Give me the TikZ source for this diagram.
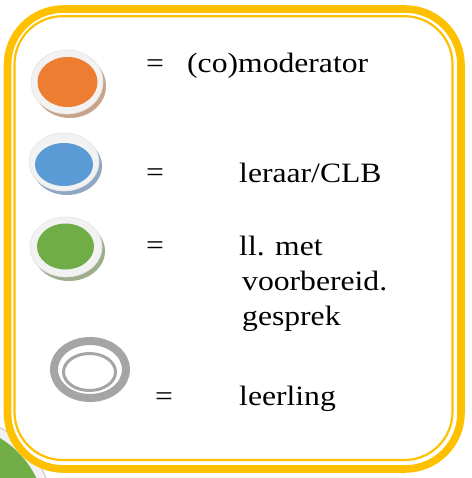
\documentclass[tikz,border=0pt]{standalone}
\usepackage{graphicx}
\usepackage{fontspec}
\setmainfont{Liberation Serif}
\definecolor{ybord}{HTML}{FFC000}
\definecolor{ringw}{HTML}{F2F2F2}
\definecolor{ringedge}{HTML}{E4E4E4}
\definecolor{morange}{HTML}{ED7D31}
\definecolor{mblue}{HTML}{5B9BD5}
\definecolor{mgreen}{HTML}{70AD47}
\definecolor{mgrey}{HTML}{A5A5A5}
\definecolor{oshadow}{HTML}{C8A58A}
\definecolor{bshadow}{HTML}{8FA7C2}
\definecolor{gshadow}{HTML}{9CAE8C}
\newcommand{\hstretch}[1]{\scalebox{1.13}[1]{#1}}
\tikzset{
  lbl/.style={font=\fontsize{28bp}{35bp}\selectfont, inner sep=0pt, anchor=base west, text=black},
  ringfill/.style={fill=ringw, draw=ringedge, line width=0.6bp}
}
\begin{document}
\begin{tikzpicture}[x=1bp,y=-1bp]
\useasboundingbox (0,0) rectangle (472,478);
% partially hidden big green marker behind the box
\begin{scope}
  \clip (0,0) rectangle (472,478);
  \fill[ringw] (-50,520) circle [radius=105bp];
  \draw[mgrey!70, line width=0.8bp] (-50,520) circle [radius=105bp];
  \fill[mgreen] (-50,520) circle [radius=96bp];
\end{scope}
% frame
\draw[ybord, line width=7.6bp, fill=white, rounded corners=56bp] (7.5,9) rectangle (461,469);
\draw[ybord, line width=2.2bp, rounded corners=48bp] (14.5,16.2) rectangle (452.5,460);
% orange marker
\fill[oshadow] (70,86) ellipse [x radius=36bp, y radius=32bp];
\path[ringfill] (67,82) ellipse [x radius=36bp, y radius=32bp];
\fill[morange] (67.5,82) ellipse [x radius=30bp, y radius=25bp];
% blue marker
\fill[bshadow] (67,166) ellipse [x radius=35bp, y radius=29bp];
\path[ringfill] (64,162) ellipse [x radius=35bp, y radius=29bp];
\fill[mblue] (64,164.5) ellipse [x radius=29bp, y radius=21.5bp];
% green marker
\fill[gshadow] (69,251) ellipse [x radius=36bp, y radius=30bp];
\path[ringfill] (66,247) ellipse [x radius=36bp, y radius=30bp];
\fill[mgreen] (65.5,246.5) ellipse [x radius=28.5bp, y radius=23bp];
% grey ring marker (leerling)
\draw[mgrey, line width=8bp] (90,369.5) ellipse [x radius=36bp, y radius=28.5bp];
\draw[mgrey, line width=3bp] (89.5,372) ellipse [x radius=26bp, y radius=18.5bp];
% texts
\node[lbl] (eq1) at (146,73) {\hstretch{=}};
\node[lbl] (t1) at (187,73) {\hstretch{(co)moderator}};
\node[lbl] (eq2) at (146,182) {\hstretch{=}};
\node[lbl] (t2) at (239,183) {\hstretch{leraar/CLB}};
\node[lbl] (eq3) at (146,254) {\hstretch{=}};
\node[lbl] (t3a) at (239,255) {\hstretch{ll. met}};
\node[lbl] (t3b) at (242,290) {\hstretch{voorbereid.}};
\node[lbl] (t3c) at (242,325) {\hstretch{gesprek}};
\node[lbl] (eq4) at (155,405) {\hstretch{=}};
\node[lbl] (t4) at (239,405) {\hstretch{leerling}};
\end{tikzpicture}
\end{document}
